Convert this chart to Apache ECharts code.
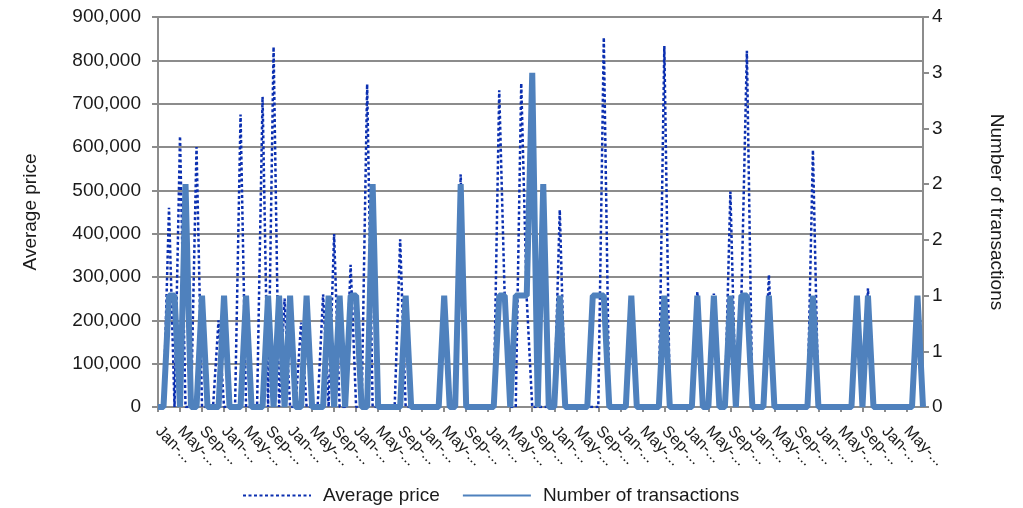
<!DOCTYPE html>
<html>
<head>
<meta charset="utf-8">
<script src="https://cdn.jsdelivr.net/npm/echarts@6/dist/echarts.min.js"></script>
<style>
html,body{margin:0;padding:0;background:#fff;}
#chart{width:1023px;height:508px;}
</style>
</head>
<body>
<div id="chart"></div>
<script>
// Month names used for the category labels (labels are truncated in the original: "Jan-...")
const monthNames = ['Jan','Feb','Mar','Apr','May','Jun','Jul','Aug','Sep','Oct','Nov','Dec'];
const monthCount = 140;
const categories = Array.from({length: monthCount}, (_, i) => monthNames[i % 12] + '-...');

// Average price (left axis)
const averagePrice = [
  0, 0, 460000, 0, 625000, 0, 0, 600000, 0, 0,
  0, 200000, 0, 0, 0, 675000, 0, 0, 0, 716000,
  0, 831000, 0, 250000, 0, 0, 195000, 0, 0, 0,
  260000, 0, 399000, 0, 0, 328000, 0, 0, 745000, 0,
  0, 0, 0, 0, 387000, 0, 0, 0, 0, 0,
  0, 0, 250000, 0, 0, 537000, 0, 0, 0, 0,
  0, 0, 731000, 250000, 0, 0, 747000, 250000, 0, 0,
  0, 0, 0, 455000, 0, 0, 0, 0, 0, 0,
  0, 853000, 0, 0, 0, 0, 250000, 0, 0, 0,
  0, 0, 833000, 0, 0, 0, 0, 0, 266000, 0,
  0, 262000, 0, 0, 497000, 0, 250000, 822000, 0, 0,
  0, 305000, 0, 0, 0, 0, 0, 0, 0, 593000,
  0, 0, 0, 0, 0, 0, 0, 250000, 0, 274000,
  0, 0, 0, 0, 0, 0, 0, 0, 250000, 0
];

// Number of transactions (right axis)
const transactions = [
  0, 0, 1, 1, 0, 2, 0, 0, 1, 0,
  0, 0, 1, 0, 0, 0, 1, 0, 0, 0,
  1, 0, 1, 0, 1, 0, 0, 1, 0, 0,
  0, 1, 0, 1, 0, 1, 1, 0, 0, 2,
  0, 0, 0, 0, 0, 1, 0, 0, 0, 0,
  0, 0, 1, 0, 0, 2, 0, 0, 0, 0,
  0, 0, 1, 1, 0, 1, 1, 1, 3, 0,
  2, 0, 0, 1, 0, 0, 0, 0, 0, 1,
  1, 1, 0, 0, 0, 0, 1, 0, 0, 0,
  0, 0, 1, 0, 0, 0, 0, 0, 1, 0,
  0, 1, 0, 0, 1, 0, 1, 1, 0, 0,
  0, 1, 0, 0, 0, 0, 0, 0, 0, 1,
  0, 0, 0, 0, 0, 0, 0, 1, 0, 1,
  0, 0, 0, 0, 0, 0, 0, 0, 1, 0
];

const seriesNames = ['Average price', 'Number of transactions'];
const axisNames = ['Average price', 'Number of transactions'];
const labelStep = 4;

const gridColor = '#8c8c8c';
const textColor = '#1a1a1a';
const fontFamily = 'Liberation Sans, Arial, sans-serif';

const baseLabel = {
  rotate: -45,
  fontSize: 16,
  color: textColor,
  margin: 22,
  hideOverlap: false
};

const chart = echarts.init(document.getElementById('chart'), null, {renderer: 'canvas'});
chart.setOption({
  animation: false,
  backgroundColor: '#ffffff',
  textStyle: {fontFamily: fontFamily},
  grid: {left: 158, right: 100, top: 17, bottom: 101, containLabel: false},
  legend: {
    top: 481,
    left: 237,
    itemWidth: 68,
    itemHeight: 14,
    itemGap: 22,
    itemStyle: {opacity: 0},
    textStyle: {fontSize: 19, color: textColor, fontFamily: fontFamily, padding: [0, 0, 0, 7]},
    data: [
      {name: seriesNames[0]},
      {name: seriesNames[1]}
    ]
  },
  xAxis: [
    {
      // main axis: line, ticks every 4 months, labels every 8 months (Jan/Sep/May...)
      type: 'category',
      data: categories,
      boundaryGap: false,
      axisLine: {lineStyle: {color: gridColor, width: 2}},
      axisTick: {show: true, interval: labelStep - 1, length: 5, lineStyle: {color: gridColor, width: 2}},
      axisLabel: Object.assign({}, baseLabel, {interval: labelStep * 2 - 1}),
      splitLine: {show: false}
    },
    {
      // companion axis carrying the in-between labels (so no label gets auto-hidden)
      type: 'category',
      data: categories,
      boundaryGap: false,
      position: 'bottom',
      axisLine: {show: false},
      axisTick: {show: false},
      axisLabel: Object.assign({}, baseLabel, {
        interval: labelStep - 1,
        formatter: (value, index) => (index % (labelStep * 2) === labelStep ? value : '')
      }),
      splitLine: {show: false}
    }
  ],
  yAxis: [
    {
      type: 'value',
      min: 0,
      max: 900000,
      interval: 100000,
      name: axisNames[0],
      nameLocation: 'middle',
      nameRotate: 90,
      nameGap: 118,
      nameTextStyle: {fontSize: 19, color: textColor},
      axisLine: {show: true, lineStyle: {color: gridColor, width: 2}},
      axisTick: {show: true, length: 6, lineStyle: {color: gridColor, width: 2}},
      axisLabel: {
        fontSize: 19,
        color: textColor,
        margin: 17,
        formatter: v => v.toLocaleString('en-US')
      },
      splitLine: {show: true, lineStyle: {color: gridColor, width: 2}}
    },
    {
      type: 'value',
      min: 0,
      max: 3.5,
      interval: 0.5,
      name: axisNames[1],
      nameLocation: 'middle',
      nameRotate: -90,
      nameGap: 64,
      nameTextStyle: {fontSize: 19, color: textColor},
      axisLine: {show: true, lineStyle: {color: gridColor, width: 2}},
      axisTick: {show: true, length: 6, lineStyle: {color: gridColor, width: 2}},
      axisLabel: {
        fontSize: 19,
        color: textColor,
        margin: 9,
        formatter: v => String(Math.round(v))
      },
      splitLine: {show: false}
    }
  ],
  series: [
    {
      name: seriesNames[0],
      type: 'line',
      xAxisIndex: 0,
      yAxisIndex: 0,
      data: averagePrice,
      symbol: 'none',
      z: 2,
      lineStyle: {color: '#0b2fb0', width: 2.5, type: [3, 2.5]},
      itemStyle: {color: '#0b2fb0'}
    },
    {
      name: seriesNames[1],
      type: 'line',
      xAxisIndex: 0,
      yAxisIndex: 1,
      data: transactions,
      symbol: 'none',
      z: 3,
      lineStyle: {color: '#4f81bd', width: 6},
      itemStyle: {color: '#4f81bd'}
    }
  ]
});
</script>
</body>
</html>
